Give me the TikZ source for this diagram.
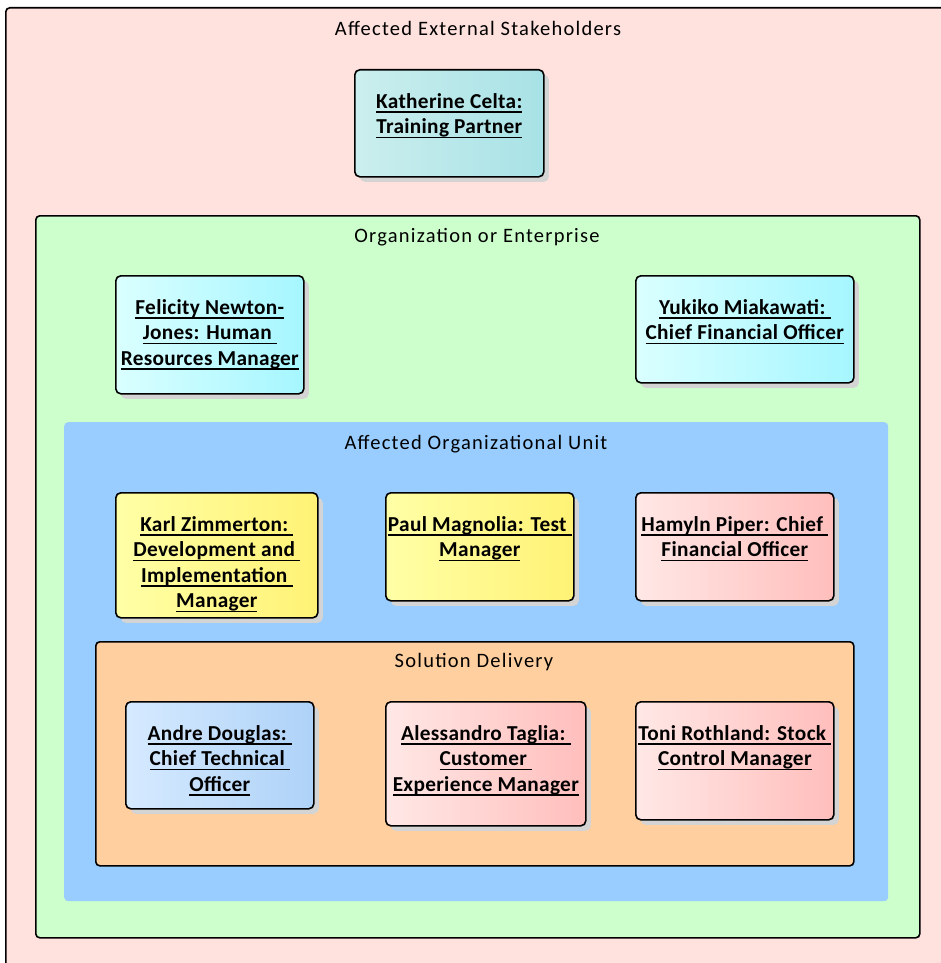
\documentclass[tikz,border=0pt]{standalone}
\usepackage{fontspec}
\setmainfont{Carlito}
\newfontfamily\titlef[LetterSpace=6]{Carlito}
\newfontfamily\boxf[LetterSpace=1.5]{Carlito}
\usetikzlibrary{shadows}
\definecolor{outerpink}{HTML}{FFE1DE}
\definecolor{encgreen}{HTML}{CCFFCC}
\definecolor{unitblue}{HTML}{99CCFF}
\definecolor{delorange}{HTML}{FFCF9F}
\definecolor{tealL}{HTML}{CCEEEE}
\definecolor{tealR}{HTML}{A8E2E6}
\definecolor{cyanL}{HTML}{DAFFFF}
\definecolor{cyanR}{HTML}{A6F6FF}
\definecolor{yelL}{HTML}{FFFFA6}
\definecolor{yelR}{HTML}{FFF275}
\definecolor{pinkL}{HTML}{FFE8E6}
\definecolor{pinkR}{HTML}{FFBEBC}
\definecolor{bluL}{HTML}{D6EAFF}
\definecolor{bluR}{HTML}{AED2F8}
\definecolor{shadowgrey}{HTML}{D4D4D4}
\newsavebox\ulbox
\newcommand\ulx[1]{\sbox\ulbox{#1}\leavevmode\rlap{\rule[-4.5pt]{\wd\ulbox}{1.6pt}}\usebox\ulbox}
\tikzset{
  container/.style={anchor=north west, inner sep=0, rounded corners=4pt},
  framed/.style={draw=black, line width=1.6pt},
  ctitle/.style={anchor=center, inner sep=0, font=\titlef\fontsize{20.5}{24}\selectfont},
  person/.style={anchor=north west, inner sep=0, draw=black, line width=1.6pt,
    rounded corners=5pt, drop shadow={shadow xshift=5pt, shadow yshift=-5pt, fill=shadowgrey, opacity=1}},
  ptext/.style={anchor=north, inner sep=0, align=center,
    font=\boxf\bfseries\fontsize{21.3}{25.5}\selectfont}
}
\begin{document}
\begin{tikzpicture}[x=1pt,y=-1pt]
\useasboundingbox (0,0) rectangle (941,963);
\fill[white] (0,0) rectangle (941,963);
% containers
\node[container, framed, fill=outerpink, minimum width=955, minimum height=975] (ext) at (5,7) {};
\node[ctitle] (extT) at (478,28) {Affected External Stakeholders};
\node[container, framed, fill=encgreen, minimum width=884, minimum height=722] (org) at (35,215) {};
\node[ctitle] (orgT) at (477,237) {Organization or Enterprise};
\node[container, fill=unitblue, minimum width=824, minimum height=479] (unit) at (64,422) {};
\node[ctitle] (unitT) at (476,444) {Affected Organizational Unit};
\node[container, framed, fill=delorange, minimum width=758, minimum height=224] (del) at (95,641) {};
\node[ctitle] (delT) at (474,662) {Solution Delivery};
% persons
\node[person, left color=tealL, right color=tealR, minimum width=189, minimum height=107] (kat) at (354,69) {};
\node[ptext] (katT) at ([yshift=-24]kat.north) {\ulx{Katherine Celta:}\\\ulx{Training Partner}};

\node[person, left color=cyanL, right color=cyanR, minimum width=188, minimum height=118] (fel) at (115,275) {};
\node[ptext] (felT) at ([yshift=-24]fel.north) {\ulx{Felicity Newton-}\\\ulx{Jones: Human\ }\\\ulx{Resources Manager}};

\node[person, left color=cyanL, right color=cyanR, minimum width=218, minimum height=107] (yuk) at (635,275) {};
\node[ptext] (yukT) at ([yshift=-24]yuk.north) {\ulx{Yukiko Miakawati:\ }\\\ulx{Chief Financial Officer}};

\node[person, left color=yelL, right color=yelR, minimum width=202, minimum height=125] (karl) at (115,492) {};
\node[ptext] (karlT) at ([yshift=-24]karl.north) {\ulx{Karl Zimmerton:\ }\\\ulx{Development and\ }\\\ulx{Implementation\ }\\\ulx{Manager}};

\node[person, left color=yelL, right color=yelR, minimum width=188, minimum height=108] (paul) at (385,492) {};
\node[ptext] (paulT) at ([yshift=-24]paul.north) {\ulx{Paul Magnolia: Test\ }\\\ulx{Manager}};

\node[person, left color=pinkL, right color=pinkR, minimum width=198, minimum height=108] (ham) at (635,492) {};
\node[ptext] (hamT) at ([yshift=-24]ham.north) {\ulx{Hamyln Piper: Chief\ }\\\ulx{Financial Officer}};

\node[person, left color=bluL, right color=bluR, minimum width=188, minimum height=107] (andre) at (125,701) {};
\node[ptext] (andreT) at ([yshift=-24]andre.north) {\ulx{Andre Douglas:\ }\\\ulx{Chief Technical\ }\\\ulx{Officer}};

\node[person, left color=pinkL, right color=pinkR, minimum width=200, minimum height=124] (ales) at (385,701) {};
\node[ptext] (alesT) at ([yshift=-24]ales.north) {\ulx{Alessandro Taglia:\ }\\\ulx{Customer\ }\\\ulx{Experience Manager}};

\node[person, left color=pinkL, right color=pinkR, minimum width=198, minimum height=118] (toni) at (635,701) {};
\node[ptext] (toniT) at ([yshift=-24]toni.north) {\ulx{Toni Rothland: Stock\ }\\\ulx{Control Manager}};
\end{tikzpicture}
\end{document}
